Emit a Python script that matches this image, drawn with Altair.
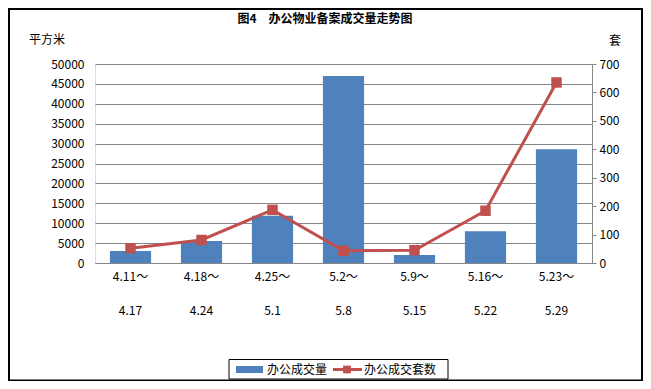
import altair as alt
import pandas as pd

# ---- data ----
period_start = ["4.11～", "4.18～", "4.25～", "5.2～", "5.9～", "5.16～", "5.23～"]
period_end = ["4.17", "4.24", "5.1", "5.8", "5.15", "5.22", "5.29"]
area_sqm = [3000, 5500, 11900, 47000, 2000, 8000, 28600]
units_sold = [52, 81, 187, 43, 45, 184, 635]
series_names = ["办公成交量", "办公成交套数"]
title_text = "图4　办公物业备案成交量走势图"
left_unit = "平方米"
right_unit = "套"
left_ticks = list(range(0, 50001, 5000))
right_ticks = list(range(0, 701, 100))

FONT = "Noto Sans CJK SC"
BLUE = "#4F81BD"
RED = "#C0504D"
GRID = "#868686"

df = pd.DataFrame({
    "period": [s + "|" + e for s, e in zip(period_start, period_end)],
    "area": area_sqm,
    "units": units_sold,
})
order = list(df["period"])

x_enc = alt.X(
    "period:N", sort=order,
    scale=alt.Scale(paddingInner=0.42, paddingOuter=0.21),
    axis=alt.Axis(title=None, labelAngle=0, labelExpr="split(datum.label, '|')",
                  labelLineHeight=34, labelPadding=8, labelBaseline="top",
                  ticks=False, domainColor=GRID, domainWidth=1,
                  labelFont=FONT, labelFontSize=12, labelColor="black"),
)

base = alt.Chart(df)

bars = base.mark_bar(color=BLUE).encode(
    x=x_enc,
    y=alt.Y("area:Q", scale=alt.Scale(domain=[0, 50000], nice=False),
            axis=alt.Axis(title=None, values=left_ticks, format="d", grid=True, gridColor=GRID,
                          gridWidth=1, domain=False, ticks=False, labelPadding=11,
                          labelFont=FONT, labelFontSize=12, labelColor="black")),
)

line = base.mark_line(
    color=RED, strokeWidth=3,
    point=alt.OverlayMarkDef(shape="square", size=110, filled=True, color=RED, opacity=1),
).encode(
    x=x_enc,
    y=alt.Y("units:Q", scale=alt.Scale(domain=[0, 700], nice=False),
            axis=alt.Axis(title=None, orient="right", values=right_ticks, format="d", grid=False,
                          domain=True, domainColor=GRID, ticks=True, tickSize=4,
                          tickColor=GRID, labelPadding=3,
                          labelFont=FONT, labelFontSize=12, labelColor="black")),
)

one = pd.DataFrame({"t": [title_text]})
title = alt.Chart(one).mark_text(font=FONT, fontSize=12, fontWeight="bold",
                                 align="center", baseline="middle", color="black").encode(
    text="t:N", x=alt.value(230), y=alt.value(-45))

lu = alt.Chart(pd.DataFrame({"t": [left_unit]})).mark_text(
    font=FONT, fontSize=12, align="center", baseline="middle", color="black").encode(
    text="t:N", x=alt.value(-48), y=alt.value(-24))
ru = alt.Chart(pd.DataFrame({"t": [right_unit]})).mark_text(
    font=FONT, fontSize=12, align="center", baseline="middle", color="black").encode(
    text="t:N", x=alt.value(520), y=alt.value(-23))

# legend
LY = 305.5
leg_box = alt.Chart(one).mark_rect(fill="white", stroke="black", strokeWidth=1).encode(
    x=alt.value(134), x2=alt.value(353), y=alt.value(295.5), y2=alt.value(315))
leg_sw1 = alt.Chart(one).mark_rect(fill=BLUE).encode(
    x=alt.value(141), x2=alt.value(168), y=alt.value(302), y2=alt.value(309))
leg_t1 = alt.Chart(pd.DataFrame({"t": [series_names[0]]})).mark_text(
    font=FONT, fontSize=12, align="left", baseline="middle", color="black").encode(
    text="t:N", x=alt.value(172), y=alt.value(LY))
leg_ln = alt.Chart(one).mark_rule(color=RED, strokeWidth=3).encode(
    x=alt.value(238), x2=alt.value(267), y=alt.value(LY))
leg_pt = alt.Chart(one).mark_point(shape="square", filled=True, color=RED, size=60, opacity=1).encode(
    x=alt.value(252), y=alt.value(LY))
leg_t2 = alt.Chart(pd.DataFrame({"t": [series_names[1]]})).mark_text(
    font=FONT, fontSize=12, align="left", baseline="middle", color="black").encode(
    text="t:N", x=alt.value(269), y=alt.value(LY))

border = alt.Chart(one).mark_rect(fill=None, stroke="black", strokeWidth=2).encode(
    x=alt.value(-86), x2=alt.value(547), y=alt.value(-55), y2=alt.value(316.5))

chart = alt.layer(
    bars, line, title, lu, ru, leg_box, leg_sw1, leg_t1, leg_ln, leg_pt, leg_t2, border
).resolve_scale(y="independent").properties(
    width=497, height=199,
    padding={"left": 87, "top": 56, "right": 51, "bottom": 118},
    autosize=alt.AutoSizeParams(type="none"),
).configure_view(stroke=None).configure(background="white")

chart.save("out.html", embed_options={"renderer": "svg", "actions": False})
